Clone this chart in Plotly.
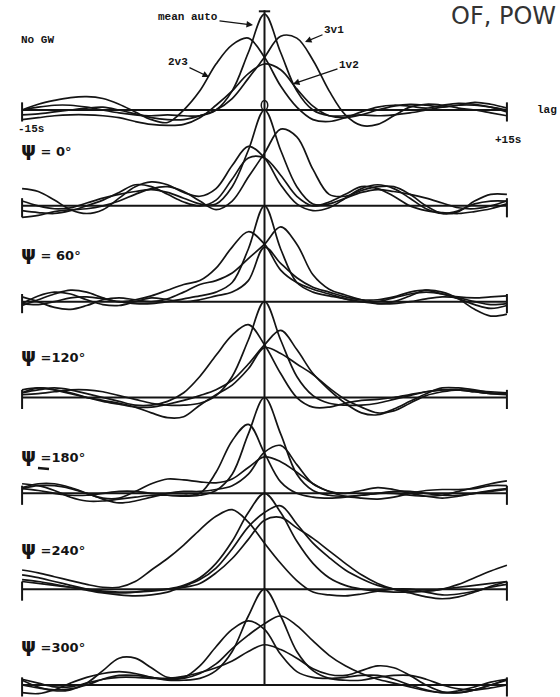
import plotly.graph_objects as go

# ---------------- data ----------------
LAGS = list(range(-15, 16))  # seconds

PANEL_LABELS = ["No GW", "ψ = 0°", "ψ = 60°", "ψ =120°", "ψ =180°", "ψ =240°", "ψ =300°"]
SERIES_NAMES = ["mean auto", "1v2", "2v3", "3v1"]

# Panel 0 : No GW
P0_AUTO = [0.0, 0.03, 0.05, 0.05, 0.03, 0.0, -0.03, -0.05, -0.06, -0.05, -0.06, -0.06, 0.0, 0.2, 0.6,
           1.0,
           0.6, 0.2, 0.0, -0.06, -0.06, -0.05, -0.06, -0.05, -0.03, 0.0, 0.03, 0.05, 0.05, 0.03, 0.0]
P0_1V2 = [-0.1, -0.08, -0.06, -0.05, -0.05, -0.06, -0.08, -0.12, -0.15, -0.16, -0.15, -0.08, 0.05, 0.2, 0.38,
          0.48,
          0.42, 0.22, 0.04, -0.06, -0.08, -0.05, 0.0, 0.04, 0.06, 0.05, 0.03, 0.05, 0.08, 0.06, 0.02]
P0_2V3 = [0.0, 0.06, 0.1, 0.13, 0.14, 0.12, 0.06, -0.02, -0.1, -0.13, 0.0, 0.2, 0.48, 0.68, 0.75,
          0.55,
          0.25, 0.03, -0.1, -0.12, -0.08, -0.02, 0.03, 0.05, 0.04, 0.02, 0.05, 0.07, 0.06, 0.03, -0.02]
P0_3V1 = [-0.05, -0.04, -0.02, 0.0, 0.02, 0.03, 0.0, -0.04, -0.08, -0.1, -0.1, -0.06, 0.0, 0.12, 0.33,
          0.55,
          0.77, 0.75, 0.52, 0.2, -0.05, -0.16, -0.15, -0.06, 0.03, 0.06, 0.05, 0.02, 0.0, -0.03, -0.06]

# Panel 1 : psi = 0
P1_AUTO = [0.05, 0.0, -0.03, -0.02, 0.03, 0.08, 0.12, 0.15, 0.17, 0.14, 0.08, 0.02, 0.02, 0.2, 0.58,
           1.0,
           0.58, 0.2, 0.02, 0.02, 0.08, 0.14, 0.17, 0.15, 0.12, 0.08, 0.03, -0.02, -0.03, 0.0, 0.05]
P1_1V2 = [-0.05, -0.07, -0.08, -0.05, 0.0, 0.06, 0.14, 0.22, 0.2, 0.12, 0.04, 0.0, 0.06, 0.28, 0.5,
          0.5,
          0.32, 0.1, 0.0, 0.04, 0.12, 0.2, 0.18, 0.1, 0.0, -0.05, -0.07, -0.08, -0.06, -0.03, 0.02]
P1_2V3 = [0.18, 0.15, 0.06, -0.04, -0.08, -0.04, 0.08, 0.2, 0.25, 0.22, 0.14, 0.1, 0.18, 0.42, 0.62,
          0.5,
          0.22, 0.02, -0.05, -0.02, 0.08, 0.18, 0.22, 0.18, 0.08, -0.03, -0.08, -0.05, 0.02, 0.05, 0.05]
P1_3V1 = [-0.12, -0.1, -0.06, -0.04, -0.03, 0.0, 0.05, 0.12, 0.18, 0.2, 0.15, 0.05, -0.04, 0.05, 0.3,
          0.55,
          0.8, 0.72, 0.38, 0.12, 0.1, 0.16, 0.2, 0.2, 0.12, 0.0, -0.08, -0.06, 0.05, 0.12, 0.12]

# Panel 2 : psi = 60
P2_AUTO = [-0.02, -0.03, 0.0, 0.04, 0.05, 0.03, 0.0, -0.02, -0.02, 0.0, 0.03, 0.06, 0.1, 0.2, 0.55,
           1.0,
           0.55, 0.2, 0.1, 0.06, 0.03, 0.0, -0.02, -0.02, 0.0, 0.03, 0.05, 0.04, 0.0, -0.03, -0.02]
P2_1V2 = [-0.02, 0.06, 0.1, 0.08, 0.02, -0.03, -0.04, 0.0, 0.04, 0.02, 0.0, 0.02, 0.06, 0.1, 0.22,
          0.57,
          0.4, 0.25, 0.15, 0.1, 0.05, 0.02, 0.02, 0.05, 0.1, 0.12, 0.08, 0.05, 0.04, 0.05, 0.06]
P2_2V3 = [-0.04, 0.02, 0.08, 0.12, 0.1, 0.04, 0.0, 0.02, 0.06, 0.12, 0.18, 0.22, 0.35, 0.57, 0.73,
          0.6,
          0.33, 0.2, 0.13, 0.08, 0.03, 0.0, 0.0, 0.04, 0.08, 0.1, 0.08, 0.03, -0.03, -0.07, -0.04]
P2_3V1 = [0.05, 0.0, -0.06, -0.08, -0.04, 0.02, 0.04, 0.02, 0.0, 0.03, 0.1, 0.18, 0.22, 0.3, 0.45,
          0.6,
          0.78, 0.6, 0.28, 0.13, 0.07, 0.02, -0.02, 0.0, 0.06, 0.12, 0.1, 0.03, -0.08, -0.15, -0.13]

# Panel 3 : psi = 120
P3_AUTO = [0.03, 0.04, 0.06, 0.08, 0.08, 0.06, 0.02, -0.02, -0.06, -0.08, -0.08, -0.06, 0.02, 0.22, 0.6,
           1.0,
           0.6, 0.22, 0.02, -0.06, -0.08, -0.08, -0.06, -0.02, 0.02, 0.06, 0.08, 0.08, 0.06, 0.04, 0.03]
P3_1V2 = [0.05, 0.1, 0.08, 0.04, 0.0, -0.03, -0.06, -0.1, -0.16, -0.21, -0.2, -0.08, 0.03, 0.13, 0.3,
          0.52,
          0.46, 0.35, 0.24, 0.1, -0.02, -0.1, -0.16, -0.14, -0.06, 0.02, 0.06, 0.08, 0.07, 0.06, 0.05]
P3_2V3 = [0.05, 0.08, 0.1, 0.08, 0.04, 0.0, -0.04, -0.08, -0.08, -0.04, 0.05, 0.22, 0.44, 0.65, 0.76,
          0.55,
          0.25, 0.0, -0.1, -0.1, -0.06, -0.03, -0.02, 0.0, 0.03, 0.06, 0.08, 0.08, 0.06, 0.04, 0.05]
P3_3V1 = [0.08, 0.1, 0.08, 0.05, 0.0, -0.04, -0.07, -0.1, -0.1, -0.07, -0.03, 0.02, 0.08, 0.18, 0.35,
          0.55,
          0.7, 0.5, 0.25, 0.08, -0.06, -0.16, -0.18, -0.12, -0.04, 0.04, 0.1, 0.1, 0.08, 0.05, 0.04]

# Panel 4 : psi = 180
P4_AUTO = [0.05, 0.03, 0.0, -0.02, -0.02, 0.0, 0.02, 0.02, 0.0, -0.02, -0.03, -0.02, 0.03, 0.2, 0.62,
           1.0,
           0.62, 0.2, 0.03, -0.02, -0.03, -0.02, 0.0, 0.02, 0.02, 0.0, -0.02, -0.02, 0.0, 0.03, 0.05]
P4_1V2 = [0.05, 0.08, 0.08, 0.05, 0.0, -0.05, -0.05, 0.02, 0.1, 0.15, 0.14, 0.12, 0.11, 0.15, 0.27,
          0.38,
          0.33, 0.22, 0.1, 0.02, 0.0, 0.03, 0.06, 0.04, 0.0, -0.03, -0.05, -0.03, 0.0, 0.02, 0.04]
P4_2V3 = [0.1, 0.08, 0.03, -0.04, -0.08, -0.08, -0.06, -0.04, -0.02, -0.02, -0.02, 0.0, 0.22, 0.55, 0.72,
          0.42,
          0.12, 0.0, -0.04, -0.05, -0.04, -0.02, 0.0, 0.0, -0.02, -0.03, -0.02, 0.02, 0.06, 0.1, 0.13]
P4_3V1 = [0.06, 0.1, 0.1, 0.06, 0.0, -0.06, -0.1, -0.08, -0.04, 0.0, 0.02, 0.02, 0.04, 0.08, 0.2,
          0.43,
          0.5, 0.3, 0.1, 0.02, -0.03, -0.05, -0.06, -0.04, 0.0, 0.03, 0.04, 0.04, 0.05, 0.08, 0.08]

# Panel 5 : psi = 240
P5_AUTO = [0.08, 0.06, 0.04, 0.02, 0.0, -0.02, -0.03, -0.03, -0.02, 0.0, 0.04, 0.12, 0.27, 0.5, 0.8,
           1.0,
           0.8, 0.5, 0.27, 0.12, 0.04, 0.0, -0.02, -0.03, -0.03, -0.02, 0.0, 0.02, 0.04, 0.06, 0.08]
P5_1V2 = [0.15, 0.12, 0.08, 0.04, 0.0, -0.03, -0.04, -0.03, -0.01, 0.0, 0.02, 0.06, 0.17, 0.32, 0.52,
          0.72,
          0.75, 0.64, 0.53, 0.4, 0.27, 0.15, 0.06, 0.0, -0.04, -0.08, -0.1, -0.08, -0.03, 0.03, 0.08]
P5_2V3 = [0.2, 0.17, 0.13, 0.09, 0.05, 0.02, 0.02, 0.08, 0.2, 0.32, 0.46, 0.62, 0.76, 0.83, 0.7,
          0.48,
          0.27, 0.09, -0.03, -0.06, -0.07, -0.05, -0.02, 0.0, 0.0, -0.03, -0.06, -0.05, -0.02, 0.02, 0.05]
P5_3V1 = [0.1, 0.08, 0.05, 0.02, -0.01, -0.04, -0.06, -0.07, -0.06, -0.03, 0.03, 0.1, 0.22, 0.42, 0.65,
          0.8,
          0.87, 0.68, 0.48, 0.33, 0.2, 0.11, 0.04, 0.0, -0.02, -0.02, 0.0, 0.05, 0.12, 0.19, 0.25]

# Panel 6 : psi = 300
P6_AUTO = [0.0, -0.03, -0.05, -0.04, 0.0, 0.06, 0.1, 0.1, 0.08, 0.05, 0.05, 0.07, 0.15, 0.35, 0.72,
           1.0,
           0.72, 0.35, 0.15, 0.07, 0.05, 0.05, 0.08, 0.1, 0.1, 0.06, 0.0, -0.04, -0.05, -0.03, 0.0]
P6_1V2 = [0.06, 0.02, -0.02, -0.02, 0.02, 0.06, 0.08, 0.08, 0.07, 0.07, 0.09, 0.13, 0.18, 0.25, 0.35,
          0.42,
          0.37, 0.28, 0.17, 0.11, 0.1, 0.15, 0.2, 0.18, 0.1, 0.0, -0.07, -0.08, -0.05, 0.0, 0.06]
P6_2V3 = [0.05, -0.02, -0.06, -0.05, 0.02, 0.15, 0.28, 0.28, 0.18, 0.08, 0.08, 0.2, 0.4, 0.58, 0.67,
          0.58,
          0.32, 0.14, 0.08, 0.07, 0.08, 0.1, 0.1, 0.06, 0.0, -0.05, -0.08, -0.06, -0.02, 0.03, 0.06]
P6_3V1 = [-0.08, -0.09, -0.05, 0.02, 0.08, 0.12, 0.14, 0.12, 0.08, 0.06, 0.07, 0.12, 0.22, 0.38, 0.52,
          0.64,
          0.72, 0.62, 0.46, 0.31, 0.2, 0.12, 0.06, 0.02, -0.02, -0.06, -0.08, -0.08, -0.05, 0.0, 0.05]

PANELS = [
    [P0_AUTO, P0_1V2, P0_2V3, P0_3V1],
    [P1_AUTO, P1_1V2, P1_2V3, P1_3V1],
    [P2_AUTO, P2_1V2, P2_2V3, P2_3V1],
    [P3_AUTO, P3_1V2, P3_2V3, P3_3V1],
    [P4_AUTO, P4_1V2, P4_2V3, P4_3V1],
    [P5_AUTO, P5_1V2, P5_2V3, P5_3V1],
    [P6_AUTO, P6_1V2, P6_2V3, P6_3V1],
]

# ---------------- layout constants ----------------
W, H = 560, 697
ML, MR = 14, 45
SPACING = 1.0          # vertical offset between stacked panels (correlation units)
INK = "#141414"
MONO = "Liberation Mono, DejaVu Sans Mono, monospace"
HAND = "DejaVu Sans, Noto Sans, sans-serif"


def px(xp):
    return (xp - ML) / (W - ML - MR)


def py(yp):
    return 1 - yp / H


fig = go.Figure()

for k, series in enumerate(PANELS):
    off = -k * SPACING
    for name, vals in zip(SERIES_NAMES, series):
        fig.add_trace(go.Scatter(
            x=LAGS, y=[v + off for v in vals], mode="lines",
            line=dict(color=INK, width=1.7, shape="spline", smoothing=1.0),
            name=f"{PANEL_LABELS[k]} {name}", hoverinfo="skip"))

shapes = []
x0, x1 = LAGS[0], LAGS[-1]
for k in range(len(PANELS)):
    off = -k * SPACING
    shapes.append(dict(type="line", xref="x", yref="y", x0=x0, x1=x1, y0=off, y1=off,
                       line=dict(color=INK, width=2)))
    for xe in (x0, x1):
        shapes.append(dict(type="line", xref="x", yref="y", x0=xe, x1=xe,
                           y0=off - 0.12, y1=off + 0.08, line=dict(color=INK, width=2)))
# central zero-lag line
shapes.append(dict(type="line", xref="x", yref="y", x0=0, x1=0,
                   y0=-(len(PANELS) - 1) * SPACING, y1=1.04, line=dict(color=INK, width=2)))
# small marks at zero lag of the top panel
shapes.append(dict(type="line", xref="x", yref="y", x0=-0.35, x1=0.35, y0=1.03, y1=1.03,
                   line=dict(color=INK, width=2)))
shapes.append(dict(type="circle", xref="x", yref="y", x0=-0.2, x1=0.2, y0=0.0, y1=0.1,
                   line=dict(color=INK, width=1.5)))
# stray pen stroke under the psi=180 label
shapes.append(dict(type="line", xref="paper", yref="paper", x0=px(38), x1=px(49),
                   y0=py(468), y1=py(469), line=dict(color=INK, width=2.5)))

ann = []


def text(s, xp, yp, size=11, font=MONO, xanchor="left", color=INK):
    ann.append(dict(text=s, x=px(xp), y=py(yp), xref="paper", yref="paper",
                    xanchor=xanchor, yanchor="middle", showarrow=False,
                    font=dict(family=font, size=size, color=color)))


def arrow(s, tx, ty, hx, hy, size=11):
    ann.append(dict(text=s, x=px(hx), y=py(hy), xref="paper", yref="paper",
                    ax=tx - hx, ay=ty - hy, showarrow=True, arrowhead=2, arrowsize=1,
                    arrowwidth=1.3, arrowcolor=INK,
                    font=dict(family=MONO, size=size, color=INK)))


text("<b>No GW</b>", 19, 40, 11)
text("<b>-15s</b>", 16, 129, 11)
text("<b>+15s</b>", 508, 140, 11, xanchor="center")
text("<b>lag</b>", 535, 110, 11)
text("OF, POW", 558, 16, 24, font="DejaVu Sans, sans-serif", xanchor="right", color="#333")

arrow("<b>mean auto</b>", 188, 17, 253, 25)
arrow("<b>3v1</b>", 334, 30, 305, 42)
arrow("<b>2v3</b>", 178, 62, 209, 77)
arrow("<b>1v2</b>", 349, 65, 293, 84)

PSI_Y = [149, 253, 355, 455, 548, 645]
for lbl, yp in zip(PANEL_LABELS[1:], PSI_Y):
    psi, rest = lbl[0], lbl[1:]
    text(f"<b><span style='font-size:19px'>{psi}</span>{rest}</b>", 19, yp, 13, font=HAND)

fig.update_layout(
    width=W, height=H, margin=dict(l=ML, r=MR, t=0, b=0),
    paper_bgcolor="white", plot_bgcolor="white", showlegend=False,
    xaxis=dict(range=[-15.5, 15.5], visible=False, fixedrange=True),
    yaxis=dict(range=[-6.125, 1.148], visible=False, fixedrange=True),
    shapes=shapes, annotations=ann,
)

fig.write_html("out.html", config={"displayModeBar": False},
               post_script="document.body.style.margin='0';")
